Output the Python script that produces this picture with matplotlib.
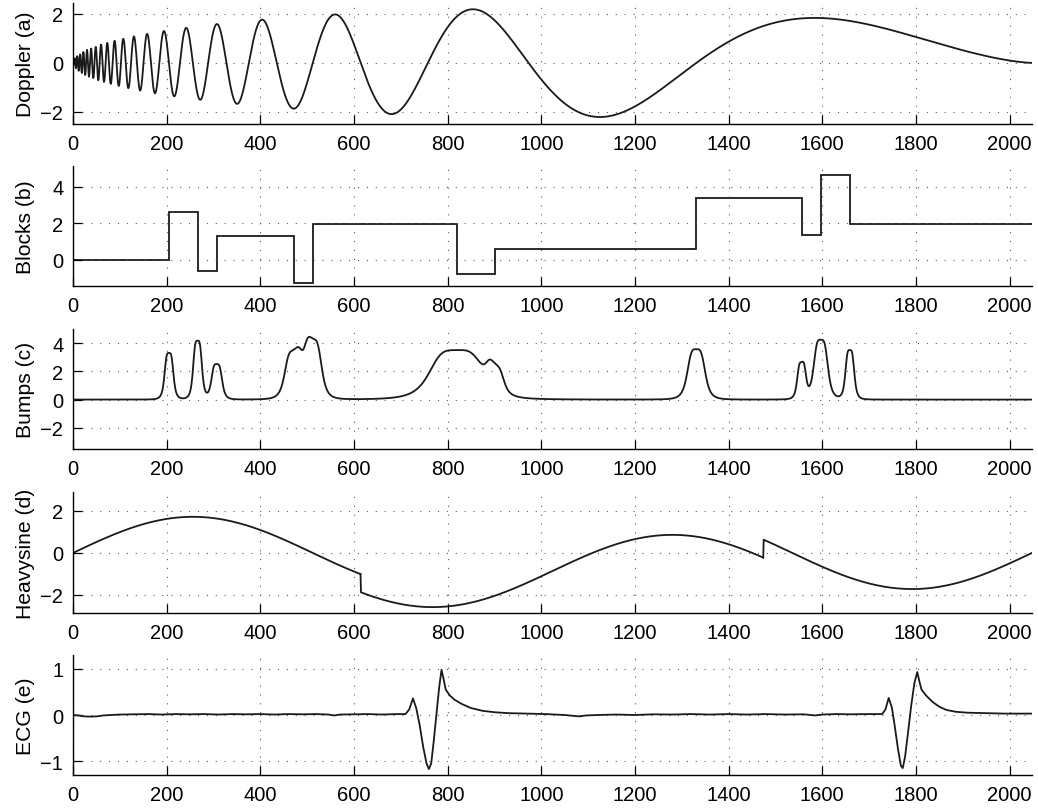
import numpy as np
import matplotlib
matplotlib.use('Agg')
import matplotlib.pyplot as plt

plt.rcParams['font.family'] = ['Liberation Sans', 'DejaVu Sans']

n = 2048
t = np.arange(n) / n

# Doppler (a): amplitude
doppler_amp = 4.45
doppler_eps = 0.05

# Blocks (b): jump positions and levels
block_edges = [0, 205, 266, 307, 471, 512, 819, 901, 1331, 1556, 1597, 1659, 2048]
block_levels = [0, 2.6, -0.65, 1.3, -1.3, 1.95, -0.78, 0.58, 3.38, 1.36, 4.68, 1.95]

# Bumps (c): centres, heights, half-widths (samples)
bump_pos = [205, 266, 307, 471, 512, 819, 901, 1331, 1556, 1597, 1659]
bump_hgt = [3.3, 4.15, 2.5, 3.3, 4.15, 3.5, 1.75, 3.57, 2.57, 4.23, 3.49]
bump_wid = [10, 10, 12, 20, 20, 61, 20, 20, 10, 16, 10]

# Heavysine (d)
heavy_amp = 0.43
heavy_jumps = [0.3, 0.72]

# ECG (e): traced points
ecg_x = [0, 12, 24, 36, 50, 65, 80, 100, 130, 160, 190, 220, 250, 280, 310, 340,
         370, 400, 430, 460, 490, 520, 545, 558, 570, 600, 630, 660, 690, 710,
         718, 726, 733, 740, 748, 755, 760, 765, 770, 776, 782, 787, 791, 796,
         805, 815, 830, 850, 875, 900, 930, 970, 1010, 1050, 1070, 1082, 1095,
         1120, 1160, 1200, 1240, 1280, 1320, 1360, 1400, 1440, 1480, 1520, 1560,
         1575, 1585, 1600, 1630, 1660, 1700, 1728, 1735, 1742, 1749, 1755, 1762,
         1768, 1772, 1777, 1783, 1790, 1797, 1803, 1807, 1812, 1822, 1836, 1850,
         1865, 1885, 1910, 1950, 1990, 2020, 2047]
ecg_y = [0.0, -0.01, -0.03, -0.035, -0.03, -0.01, 0.0, 0.01, 0.015, 0.02, 0.01,
         0.02, 0.015, 0.02, 0.01, 0.02, 0.015, 0.02, 0.01, 0.02, 0.015, 0.02,
         0.01, -0.01, 0.01, 0.015, 0.02, 0.01, 0.02, 0.02,
         0.12, 0.36, 0.15, -0.2, -0.7, -1.05, -1.17, -1.05, -0.6, 0.0, 0.6,
         0.98, 0.8, 0.55, 0.42, 0.33, 0.24, 0.15, 0.09, 0.06, 0.04, 0.03, 0.02,
         0.0, -0.02, -0.03, -0.01, 0.0, 0.01, 0.0, 0.015, 0.01, 0.02, 0.01,
         0.02, 0.01, 0.02, 0.01, 0.015, 0.0, -0.01, 0.01, 0.02, 0.015, 0.02,
         0.02, 0.12, 0.37, 0.15, -0.25, -0.75, -1.1, -1.15, -0.9, -0.4, 0.2,
         0.7, 0.93, 0.75, 0.55, 0.42, 0.28, 0.18, 0.11, 0.07, 0.05, 0.04, 0.03,
         0.03, 0.03]

samples = np.arange(n)
doppler = doppler_amp * np.sqrt(t * (1 - t)) * np.sin(2 * np.pi * (1 + doppler_eps) / (t + doppler_eps))
bumps = np.zeros(n)
for p, h, w in zip(bump_pos, bump_hgt, bump_wid):
    bumps += h / (1 + ((samples - p) / w) ** 4)
heavysine = heavy_amp * (4 * np.sin(4 * np.pi * t) - np.sign(t - heavy_jumps[0]) - np.sign(heavy_jumps[1] - t))

labels = ['Doppler (a)', 'Blocks (b)', 'Bumps (c)', 'Heavysine (d)', 'ECG (e)']
ylims = [(-2.5, 2.45), (-1.45, 5.15), (-3.5, 5.0), (-2.86, 2.9), (-1.3, 1.3)]
yticks = [[-2, 0, 2], [0, 2, 4], [-2, 0, 2, 4], [-2, 0, 2], [-1, 0, 1]]
# axes top/bottom in pixels
tops = [4, 167, 330, 493, 656]
bots = [125, 287, 450, 614, 776]

W, H = 1038, 812
fig = plt.figure(figsize=(W / 100, H / 100), dpi=100)
line_c = '#1a1a1a'

axes = []
for i in range(5):
    ax = fig.add_axes([73 / W, 1 - bots[i] / H, 959 / W, (bots[i] - tops[i]) / H])
    axes.append(ax)

axes[0].plot(samples, doppler, color=line_c, lw=1.3)
axes[1].stairs(block_levels, block_edges, color=line_c, lw=1.3, baseline=None)
axes[2].plot(samples, bumps, color=line_c, lw=1.3)
axes[3].plot(samples[t < heavy_jumps[0]], heavysine[t < heavy_jumps[0]], color=line_c, lw=1.3)
m = (t >= heavy_jumps[0]) & (t < heavy_jumps[1])
axes[3].plot(np.r_[samples[t < heavy_jumps[0]][-1], samples[m]],
             np.r_[heavysine[t < heavy_jumps[0]][-1], heavysine[m]], color=line_c, lw=1.3)
m2 = t >= heavy_jumps[1]
axes[3].plot(np.r_[samples[m][-1], samples[m2]], np.r_[heavysine[m][-1], heavysine[m2]],
             color=line_c, lw=1.3)
axes[4].plot(ecg_x, ecg_y, color=line_c, lw=1.3)

for i, ax in enumerate(axes):
    ax.set_xlim(0, 2048)
    ax.set_ylim(*ylims[i])
    ax.set_xticks(np.arange(0, 2001, 200))
    ax.set_yticks(yticks[i])
    ax.grid(True, color='0.35', linestyle=(0, (1, 7)), linewidth=0.8)
    ax.tick_params(direction='in', length=6.5, width=0.9, labelsize=14.5, pad=7)
    for s in ['top', 'right']:
        ax.spines[s].set_visible(False)
    for s in ['left', 'bottom']:
        ax.spines[s].set_linewidth(1.0)
    ax.set_ylabel(labels[i], fontsize=15.2)
    ax.yaxis.set_label_coords(-0.04, 0.5)

fig.savefig('out.png', dpi=100)
